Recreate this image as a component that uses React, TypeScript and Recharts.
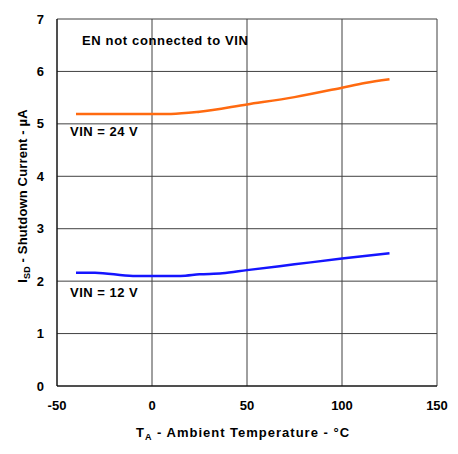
import { CartesianGrid, Customized, Label, Line, LineChart, XAxis, YAxis } from "recharts";

const xTicks = [-50, 0, 50, 100, 150];
const yTicks = [0, 1, 2, 3, 4, 5, 6, 7];

const temps24 = [-40, -25, 0, 10, 25, 50, 75, 100, 112, 125];
const current24 = [5.19, 5.19, 5.19, 5.19, 5.23, 5.37, 5.51, 5.69, 5.78, 5.85];

const temps12 = [-40, -30, -10, 0, 15, 25, 37, 50, 75, 100, 125];
const current12 = [2.16, 2.16, 2.1, 2.1, 2.1, 2.13, 2.15, 2.21, 2.32, 2.43, 2.53];

const series24 = temps24.map((t, i) => ({ t, v: current24[i] }));
const series12 = temps12.map((t, i) => ({ t, v: current12[i] }));

const FONT = "'Liberation Sans', Arial, sans-serif";
const tickStyle = { fill: "#000", fontSize: 13, fontWeight: 700, fontFamily: FONT };

function Notes() {
  const s = { fontFamily: FONT, fontWeight: 700, fontSize: 13, fill: "#000" };
  return (
    <g>
      <text x={82} y={45} letterSpacing={0.65} {...s}>
        EN not connected to VIN
      </text>
      <text x={70} y={136} letterSpacing={0.5} {...s}>
        VIN = 24 V
      </text>
      <text x={70} y={297} letterSpacing={0.5} {...s}>
        VIN = 12 V
      </text>
    </g>
  );
}

function YTitle() {
  return (
    <text
      transform="translate(27, 196) rotate(-90)"
      textAnchor="middle"
      fontFamily={FONT}
      fontWeight={700}
      fontSize={13}
      letterSpacing={0.15}
      fill="#000"
    >
      I<tspan fontSize={9} dy={3}>SD</tspan>
      <tspan dy={-3}> - Shutdown Current - µA</tspan>
    </text>
  );
}

function XTitle() {
  return (
    <text
      x={243}
      y={437}
      textAnchor="middle"
      fontFamily={FONT}
      fontWeight={700}
      fontSize={13}
      letterSpacing={1}
      fill="#000"
    >
      T<tspan fontSize={9} dy={3}>A</tspan>
      <tspan dy={-3}> - Ambient Temperature - °C</tspan>
    </text>
  );
}

export default function App() {
  return (
    <div style={{ position: "fixed", left: 0, top: 0, background: "#fff" }}>
      <LineChart width={458} height={454} margin={{ top: 19, right: 21, bottom: 0, left: 0 }}>
        <CartesianGrid stroke="#404040" strokeWidth={1} />
        <XAxis
          type="number"
          dataKey="t"
          domain={[-50, 150]}
          ticks={xTicks}
          allowDuplicatedCategory={false}
          height={68}
          tickSize={0}
          tickMargin={15}
          tick={tickStyle}
          axisLine={{ stroke: "#000" }}
        >
          <Label content={() => <XTitle />} />
        </XAxis>
        <YAxis
          type="number"
          domain={[0, 7]}
          ticks={yTicks}
          width={57}
          tickSize={0}
          tickMargin={13}
          tick={tickStyle}
          axisLine={{ stroke: "#000" }}
        >
          <Label content={() => <YTitle />} />
        </YAxis>
        <Line
          data={series24}
          dataKey="v"
          type="monotone"
          stroke="#ff6a10"
          strokeWidth={2.5}
          dot={false}
          isAnimationActive={false}
        />
        <Line
          data={series12}
          dataKey="v"
          type="monotone"
          stroke="#1515ff"
          strokeWidth={2.5}
          dot={false}
          isAnimationActive={false}
        />
        <Customized component={Notes} />
      </LineChart>
    </div>
  );
}
